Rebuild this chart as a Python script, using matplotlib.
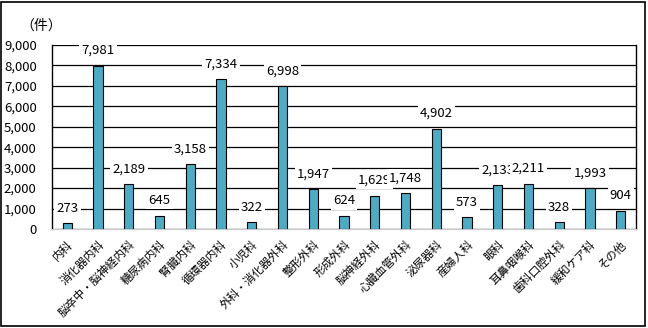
import numpy as np
import matplotlib
matplotlib.use("Agg")
import matplotlib.pyplot as plt

plt.rcParams['font.family'] = ['Noto Sans CJK JP', 'DejaVu Sans']

# data
categories = ["内科", "消化器内科", "脳卒中・脳神経内科", "糖尿病内科", "腎臓内科",
              "循環器内科", "小児科", "外科・消化器外科", "整形外科", "形成外科",
              "脳神経外科", "心臓血管外科", "泌尿器科", "産婦人科", "眼科",
              "耳鼻咽喉科", "歯科口腔外科", "緩和ケア科", "その他"]
counts = [273, 7981, 2189, 645, 3158, 7334, 322, 6998, 1947, 624,
          1629, 1748, 4902, 573, 2133, 2211, 328, 1993, 904]
yticks = [0, 1000, 2000, 3000, 4000, 5000, 6000, 7000, 8000, 9000]

fig = plt.figure(figsize=(6.48, 3.28), dpi=100)
ax = fig.add_axes([52 / 648, 1 - 229 / 328, (636 - 52) / 648, (229 - 45) / 328])

x = np.arange(len(categories))
ax.bar(x, counts, width=0.3, color='#4BACC6', edgecolor='black', linewidth=0.8, zorder=3)

# value labels with white boxes
for xi, v in zip(x, counts):
    ax.annotate(f"{v:,}", (xi, v), xytext=(0, 11), textcoords='offset points',
                ha='center', va='center', fontsize=9.5, zorder=4,
                bbox=dict(facecolor='white', edgecolor='none', pad=1.5))

ax.set_xlim(-0.5, len(categories) - 0.5)
ax.set_ylim(0, 9000)
ax.set_yticks(yticks)
ax.set_yticklabels([f"{t:,}" for t in yticks], fontsize=9.5)
ax.yaxis.grid(True, color='black', linewidth=0.9, zorder=0)
ax.tick_params(axis='y', length=0, pad=11)
ax.tick_params(axis='x', length=0, pad=7)
ax.set_xticks(x)
ax.set_xticklabels(categories, rotation=45, ha='right', rotation_mode='anchor', fontsize=8.2)

ax.spines['top'].set_visible(False)
ax.spines['bottom'].set_color('#c8c8c8')
ax.spines['left'].set_linewidth(1)
ax.spines['right'].set_linewidth(1)

fig.text(20 / 648, 1 - 26 / 328, "（件）", fontsize=10, va='center', ha='left')

# outer frame
fig.patches.append(plt.Rectangle((0.002, 0.005), 0.993, 0.99, transform=fig.transFigure,
                                 fill=False, edgecolor='black', linewidth=1.2))

fig.savefig("out.png", dpi=100)
